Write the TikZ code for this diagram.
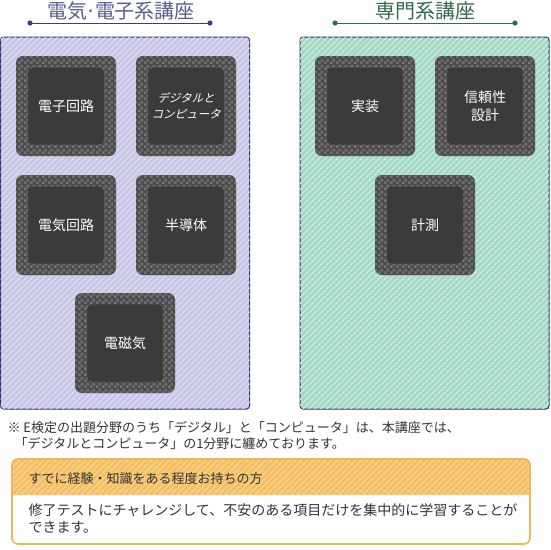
\documentclass[tikz,border=0pt]{standalone}
\usepackage{fontspec}
\setmainfont{Noto Sans CJK JP}
\newfontfamily\slantjp[FakeSlant=0.25]{Noto Sans CJK JP}
\usetikzlibrary{patterns.meta}
\definecolor{lavbase}{HTML}{C8C6E6}
\definecolor{lavstripe}{HTML}{E2E1F3}
\definecolor{mintbase}{HTML}{A3D8C4}
\definecolor{mintstripe}{HTML}{D6EFE5}
\definecolor{navy}{HTML}{2E3275}
\definecolor{lavtitle}{HTML}{5A5D8C}
\definecolor{lavline}{HTML}{3D3F77}
\definecolor{greentitle}{HTML}{2E6B4F}
\definecolor{chipbase}{HTML}{4C4C4C}
\definecolor{chipcheck}{HTML}{727272}
\definecolor{chipcore}{HTML}{3B3B3D}
\definecolor{ornbase}{HTML}{F4BE62}
\definecolor{ornstripe}{HTML}{F9D89C}
\definecolor{ornline}{HTML}{F1B457}
\definecolor{txtgray}{HTML}{333333}
\pgfdeclarepattern{name=chk, type=uncolored,
  bottom left={\pgfpointorigin}, top right={\pgfpoint{6pt}{6pt}},
  tile size={\pgfpoint{6pt}{6pt}},
  code={\pgfpathrectangle{\pgfpointorigin}{\pgfpoint{3pt}{3pt}}
        \pgfpathrectangle{\pgfpoint{3pt}{3pt}}{\pgfpoint{3pt}{3pt}}
        \pgfusepath{fill}}}

\begin{document}
\begin{tikzpicture}[x=1pt,y=-1pt,
  panel/.style={draw=navy,line width=1pt,rounded corners=3pt,inner sep=0pt,
    minimum width=249pt,minimum height=372pt},
  chip/.style={rounded corners=7pt,inner sep=0pt,minimum width=100pt,minimum height=100pt,
    fill=chipbase,postaction={pattern=chk,pattern color=chipcheck}},
  core/.style={rounded corners=5pt,inner sep=0pt,minimum width=76pt,minimum height=77pt,
    fill=chipcore,text=white,align=center,font=\fontsize{14}{18}\selectfont},
  title/.style={font=\fontsize{20}{24}\selectfont},
  note/.style={anchor=base west,text=txtgray,font=\fontsize{13}{16}\selectfont}]
\useasboundingbox (0,0) rectangle (550,550);

% panels
\node[panel,fill=lavbase,postaction={pattern={Lines[angle=45,distance=4pt,line width=1.3pt]},pattern color=lavstripe}] (elecpanel) at (125,223) {};
\node[panel,fill=mintbase,postaction={pattern={Lines[angle=45,distance=4pt,line width=1.3pt]},pattern color=mintstripe}] (propanel) at (424.5,223) {};

% titles
\node[title,text=lavtitle] (electitle) at (121,11) {電気\makebox[8pt]{·}電子系講座};
\coordinate (elecl) at (30,23);
\coordinate (elecr) at (210,23);
\draw[lavline,line width=1pt] (elecl) -- (elecr);
\fill[lavline] (elecl) circle (2.6) (elecr) circle (2.6);
\node[title,text=greentitle] (protitle) at (425,11) {専門系講座};
\coordinate (prol) at (335,23);
\coordinate (pror) at (515,23);
\draw[greentitle,line width=1pt] (prol) -- (pror);
\fill[greentitle] (prol) circle (2.6) (pror) circle (2.6);

% chips
\node[chip] (circ) at (66,106) {};
\node[core] (circt) at (circ) {電子回路};
\node[chip] (digi) at (186,106) {};
\node[core,font=\slantjp\fontsize{11.5}{16}\selectfont] (digit) at (digi) {デジタルと\\コンピュータ};
\node[chip] (elcirc) at (66,225) {};
\node[core] (elcirct) at (elcirc) {電気回路};
\node[chip] (semi) at (186,225) {};
\node[core] (semit) at (semi) {半導体};
\node[chip] (magn) at (125,343) {};
\node[core] (magnt) at (magn) {電磁気};
\node[chip] (impl) at (365,106) {};
\node[core] (implt) at (impl) {実装};
\node[chip] (rely) at (485,106) {};
\node[core] (relyt) at (rely) {信頼性\\設計};
\node[chip] (meas) at (425,225) {};
\node[core] (meast) at (meas) {計測};

% note
\node[note] (note1) at (4,432) {※ E検定の出題分野のうち「デジタル」と「コンピュータ」は、本講座では、};
\node[note] (note2) at (11,448) {「デジタルとコンピュータ」の1分野に纏めております。};

% tip box
\begin{scope}
\clip[rounded corners=6pt] (12,459) rectangle (530,544);
\fill[white] (12,459) rectangle (530,544);
\fill[ornbase,postaction={pattern={Lines[angle=45,distance=4pt,line width=1.3pt]},pattern color=ornstripe}] (12,459) rectangle (530,495);
\end{scope}
\draw[ornline,line width=1.6pt,rounded corners=6pt] (12,459) rectangle (530,544);
\node[note] (tiphead) at (25,483) {すでに経験・知識をある程度お持ちの方};
\node[note,font=\fontsize{14}{17}\selectfont] (tipbody1) at (25,515) {修了テストにチャレンジして、不安のある項目だけを集中的に学習することが};
\node[note,font=\fontsize{14}{17}\selectfont] (tipbody2) at (25,532) {できます。};
\end{tikzpicture}
\end{document}
